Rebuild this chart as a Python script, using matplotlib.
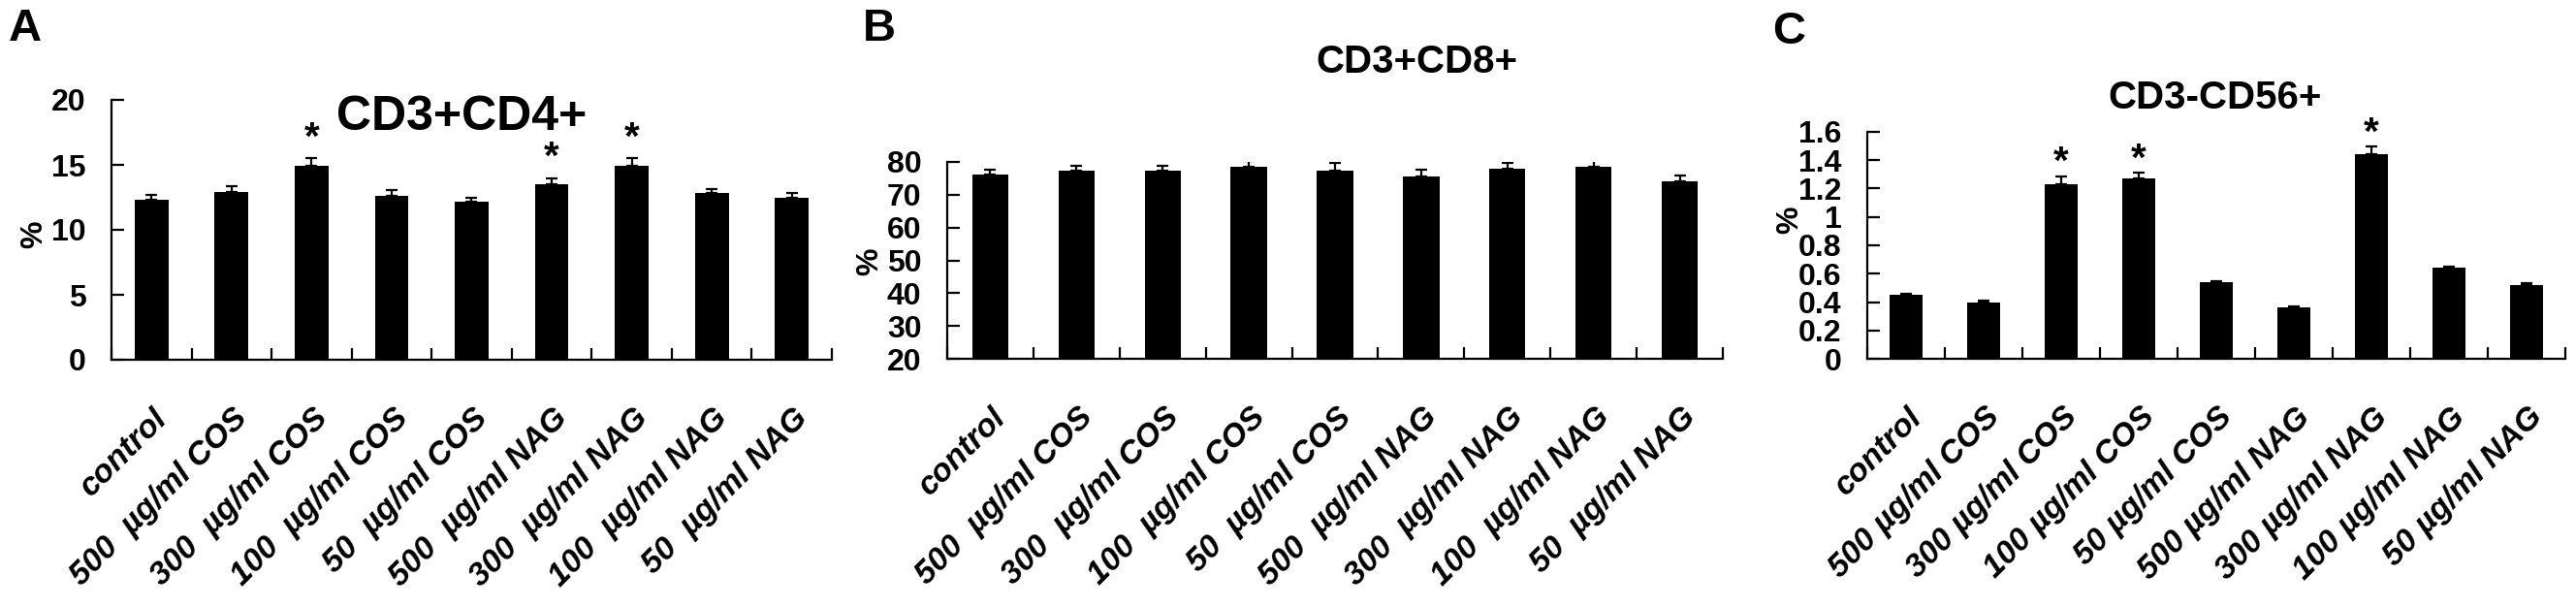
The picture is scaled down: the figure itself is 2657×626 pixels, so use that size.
import numpy as np
import matplotlib
matplotlib.use('Agg')
from matplotlib import pyplot as plt
from matplotlib.transforms import ScaledTranslation

plt.rcParams['font.family'] = ['Liberation Sans', 'DejaVu Sans']
plt.rcParams['font.weight'] = 'bold'

# category labels
labels_ab = ['control', '500  µg/ml COS', '300  µg/ml COS', '100  µg/ml COS', '50  µg/ml COS',
             '500  µg/ml NAG', '300  µg/ml NAG', '100  µg/ml NAG', '50  µg/ml NAG']
labels_c = ['control', '500 µg/ml COS', '300 µg/ml COS', '100 µg/ml COS', '50 µg/ml COS',
            '500 µg/ml NAG', '300 µg/ml NAG', '100 µg/ml NAG', '50 µg/ml NAG']

# A: CD3+CD4+
cd4_mean = [12.3, 12.9, 14.9, 12.6, 12.2, 13.5, 14.9, 12.8, 12.5]
cd4_err = [0.4, 0.45, 0.6, 0.45, 0.3, 0.45, 0.6, 0.3, 0.3]
cd4_sig = [2, 5, 6]

# B: CD3+CD8+
cd8_mean = [76.1, 77.3, 77.3, 78.4, 77.3, 75.5, 77.8, 78.4, 74.2]
cd8_err = [1.6, 1.6, 1.6, 1.8, 2.3, 2.2, 1.8, 2.4, 1.8]
cd8_sig = []

# C: CD3-CD56+
cd56_mean = [0.45, 0.40, 1.23, 1.27, 0.54, 0.36, 1.44, 0.64, 0.52]
cd56_err = [0.01, 0.01, 0.055, 0.04, 0.01, 0.01, 0.055, 0.01, 0.01]
cd56_sig = [2, 3, 6]

W, H = 2657, 626
fig = plt.figure(figsize=(W / 100, H / 100), dpi=100)


def px(x, y):
    return x / W, 1 - y / H


def panel(rect, means, errs, sig, labels, ylim, yticks, star_off):
    ax = fig.add_axes(rect)
    n = len(means)
    x = np.arange(n)
    ax.bar(x, means, width=0.42, color='black', zorder=2)
    ax.errorbar(x, means, yerr=[np.zeros(n), errs], fmt='none', ecolor='black',
                elinewidth=1.6, capsize=4, capthick=1.6, zorder=3)
    for i in sig:
        ax.annotate('*', (x[i], means[i] + errs[i]), xytext=(0, star_off),
                    textcoords='offset points', ha='center', va='center',
                    fontsize=29, fontweight='bold')
    ax.set_xlim(-0.5, n - 0.5)
    ax.set_ylim(*ylim)
    ax.set_yticks(yticks)
    ax.yaxis.set_major_formatter(plt.FuncFormatter(lambda v, p: '%g' % v))
    ax.tick_params(axis='y', direction='in', length=9, width=1.6, pad=19, labelsize=23)
    # boundary ticks (Excel style), labels at category centres
    ax.set_xticks(np.arange(n + 1) - 0.5)
    ax.set_xticklabels([])
    ax.tick_params(axis='x', which='major', direction='in', length=9, width=1.6)
    ax.set_xticks(x, minor=True)
    ax.set_xticklabels(labels, minor=True, rotation=45, ha='right', va='center',
                       rotation_mode='anchor', fontsize=24, fontstyle='italic',
                       fontweight='bold')
    ax.tick_params(axis='x', which='minor', length=0, pad=40)
    for lab in ax.get_xticklabels(minor=True):
        lab.set_transform(lab.get_transform() + ScaledTranslation(0.12, 0, fig.dpi_scale_trans))
    for s in ['top', 'right']:
        ax.spines[s].set_visible(False)
    for s in ['left', 'bottom']:
        ax.spines[s].set_linewidth(1.6)
    return ax


panel([115 / W, 1 - 371 / H, 743 / W, 268 / H], cd4_mean, cd4_err, cd4_sig, labels_ab,
      (0, 20), [0, 5, 10, 15, 20], 15)
panel([977 / W, 1 - 370 / H, 800 / W, 203 / H], cd8_mean, cd8_err, cd8_sig, labels_ab,
      (20, 80), [20, 30, 40, 50, 60, 70, 80], 15)
panel([1926 / W, 1 - 370 / H, 720 / W, 234 / H], cd56_mean, cd56_err, cd56_sig, labels_c,
      (0, 1.6), [0, 0.2, 0.4, 0.6, 0.8, 1, 1.2, 1.4, 1.6], 10)

# panel letters
for t, (x, y) in zip('ABC', [(26, 30), (907, 30), (1845, 33)]):
    fig.text(*px(x, y), t, fontsize=34, fontweight='bold', ha='center', va='center')

# titles
fig.text(*px(476, 121), 'CD3+CD4+', fontsize=36, fontweight='bold', ha='center', va='center')
fig.text(*px(1461, 64), 'CD3+CD8+', fontsize=29, fontweight='bold', ha='center', va='center')
fig.text(*px(2285, 101), 'CD3-CD56+', fontsize=29, fontweight='bold', ha='center', va='center')

# y labels
for x, y in [(35, 242), (897, 270), (1846, 227)]:
    fig.text(*px(x, y), '%', fontsize=23, fontweight='bold', rotation=90,
             ha='center', va='center')

fig.savefig('out.png', dpi=100)
